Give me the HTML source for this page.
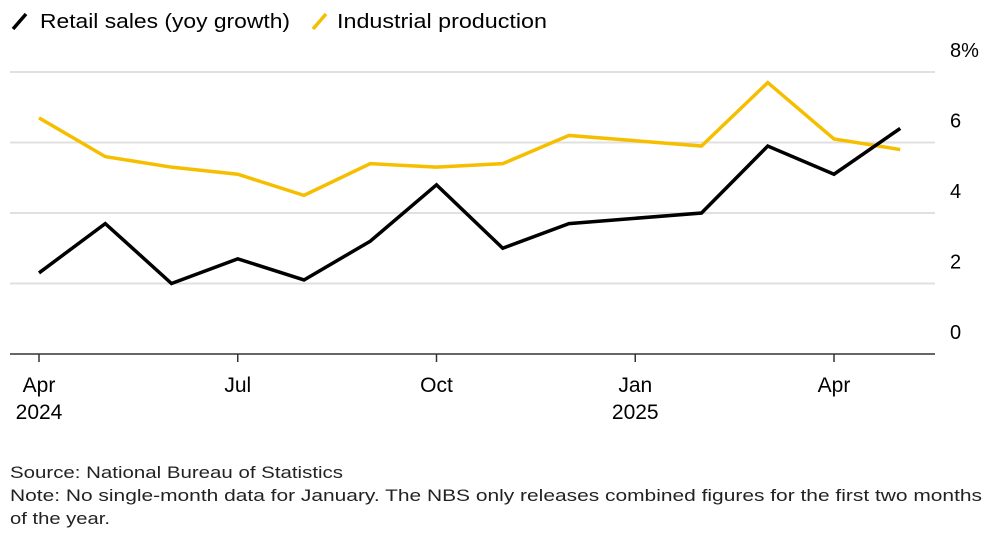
<!DOCTYPE html>
<html><head><meta charset="utf-8"><style>
body{margin:0;background:#fff;font-family:"Liberation Sans",Arial,sans-serif;}
svg text{font-family:"Liberation Sans",Arial,sans-serif;}
</style></head><body>
<svg id="chart" width="990" height="537">
<g>
<g><line x1="13" y1="29" x2="26" y2="14" stroke="#000" stroke-width="3.5"/><text x="40" y="28" font-size="20" fill="#000" textLength="250" lengthAdjust="spacingAndGlyphs">Retail sales (yoy growth)</text></g>
<g><line x1="313" y1="29" x2="326" y2="14" stroke="#f5bf00" stroke-width="3.5"/><text x="337" y="28" font-size="20" fill="#000" textLength="210" lengthAdjust="spacingAndGlyphs">Industrial production</text></g>
</g>
<g id="grid"></g><g id="xaxis"></g><g id="series"></g>
<text x="10" y="478" font-size="17" fill="#222" textLength="333" lengthAdjust="spacingAndGlyphs">Source: National Bureau of Statistics</text>
<text x="10" y="501" font-size="17" fill="#222" textLength="972" lengthAdjust="spacingAndGlyphs">Note: No single-month data for January. The NBS only releases combined figures for the first two months</text>
<text x="10" y="524" font-size="17" fill="#222" textLength="100" lengthAdjust="spacingAndGlyphs">of the year.</text>
</svg>
<script>
const months=["Apr","May","Jun","Jul","Aug","Sep","Oct","Nov","Dec","Jan","Feb","Mar","Apr","May"];
const retail=[2.3,3.7,2.0,2.7,2.1,3.2,4.8,3.0,3.7,null,4.0,5.9,5.1,6.4];
const industrial=[6.7,5.6,5.3,5.1,4.5,5.4,5.3,5.4,6.2,null,5.9,7.7,6.1,5.8];
const yTicks=[0,2,4,6,8];
const yTickLabels=["0","2","4","6","8%"];
const xTickIdx=[0,3,6,9,12];
const xTickLabels=["Apr","Jul","Oct","Jan","Apr"];
const xYearLabels=["2024","","","2025",""];
const NS="http://www.w3.org/2000/svg";
const x=i=>39+i*(834-39)/12;
const y=v=>354-v*(354-72)/8;
function mk(t,a,p){const e=document.createElementNS(NS,t);for(const k in a)e.setAttribute(k,a[k]);p.appendChild(e);return e;}
const grid=document.getElementById('grid');
yTicks.forEach((v,i)=>{
 if(v>0){const l=mk('line',{x1:10,x2:935,y1:y(v),y2:y(v),stroke:'#e0e0e0','stroke-width':2},grid);
 
 }
 const t=mk('text',{x:950,y:y(v)-15,'font-size':20,fill:'#000'},grid);t.textContent=yTickLabels[i];
 
 
});
const xa=document.getElementById('xaxis');
const base=mk('line',{x1:10,x2:935,y1:354,y2:354,stroke:'#333','stroke-width':1.5},xa);


xTickIdx.forEach((m,i)=>{
 const tk=mk('line',{x1:x(m),x2:x(m),y1:354,y2:362,stroke:'#333','stroke-width':1.5},xa);
 
 
 const t=mk('text',{x:x(m),y:392,'font-size':21,'text-anchor':'middle',fill:'#000'},xa);t.textContent=xTickLabels[i];
 
 
 if(xYearLabels[i]){const t2=mk('text',{x:x(m),y:419,'font-size':21,'text-anchor':'middle',fill:'#000'},xa);t2.textContent=xYearLabels[i];
 
 }
});
const sg=document.getElementById('series');
function line(data,color,name){
 const pts=[];data.forEach((v,i)=>{if(v!==null)pts.push(x(i)+','+y(v));});
 const p=mk('polyline',{points:pts.join(' '),fill:'none',stroke:color,'stroke-width':3.5,'stroke-linejoin':'miter'},sg);
 
 
}
line(industrial,'#f5bf00','industrial-production-line');
line(retail,'#000','retail-sales-line');
</script>
</body></html>
